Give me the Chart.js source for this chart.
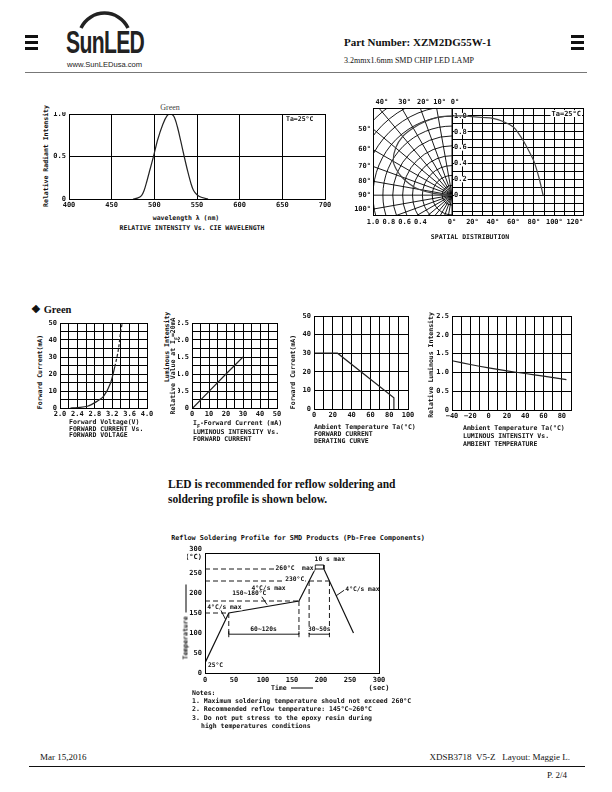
<!DOCTYPE html>
<html>
<head>
<meta charset="utf-8">
<title>XZM2DG55W-1</title>
<script src="https://cdn.jsdelivr.net/npm/chart.js@4.4.1/dist/chart.umd.min.js"></script>
<style>
  body { margin: 0; width: 612px; height: 792px; position: relative; overflow: hidden; background: #fff; color: #111; }
  canvas { position: absolute; }
  .a { position: absolute; white-space: nowrap; }
  .m { font-family: 'DejaVu Sans Mono', monospace; font-weight: bold; font-size: 6.5px; line-height: 7px; }
  .s { font-family: 'Liberation Serif', serif; }
  .bar { position: absolute; background: #111; height: 3px; width: 13px; }
</style>
</head>
<body>
<!-- header -->
<div class="bar" style="left:25px;top:35px"></div>
<div class="bar" style="left:25px;top:41px"></div>
<div class="bar" style="left:25px;top:47px"></div>
<div class="bar" style="left:571px;top:35px"></div>
<div class="bar" style="left:571px;top:41px"></div>
<div class="bar" style="left:571px;top:47px"></div>
<svg style="position:absolute;left:0;top:0" width="200" height="40">
  <path d="M 81 28 A 26 26 0 0 1 128 28" stroke="#222" stroke-width="3.5" fill="none"/>
</svg>
<div class="a" style="left:66px;top:24px;font:bold 32px 'Liberation Sans',sans-serif;color:#222;letter-spacing:-1px;transform:scaleX(0.66);transform-origin:left top">SunLED</div>
<div style="position:absolute;left:25px;top:72px;width:562px;height:1px;background:#777"></div>

<script>
// ---------------- data ----------------
var specWave = [475, 480, 485, 488, 491, 495, 499, 504, 510, 515, 519, 523, 527, 531, 535, 539, 543, 546, 550, 555, 563];
var specRel  = [0, 0.01, 0.04, 0.1, 0.2, 0.35, 0.5, 0.7, 0.88, 0.98, 1.0, 0.97, 0.85, 0.68, 0.5, 0.33, 0.18, 0.1, 0.05, 0.02, 0];
var specXLabels = [400, 450, 500, 550, 600, 650, 700];
var specYLabels = [0, 0.5, 1.0];

var spatAngle = [0, 10, 20, 30, 40, 50, 60, 65, 70, 75, 80, 85, 89];
var spatRel   = [1.0, 1.0, 0.99, 0.98, 0.97, 0.93, 0.86, 0.78, 0.68, 0.56, 0.43, 0.22, 0];
var spatDegLabels = [0, 20, 40, 60, 80, 100, 120];
var spatRadLabels = [1.0, 0.8, 0.6, 0.4];
var spatRelLabels = [1.0, 0.8, 0.6, 0.4, 0.2, 0];
var spatTopAngles = [40, 30, 20, 10, 0];
var spatSideAngles = [50, 60, 70, 80, 90, 100];

var vfVolt = [2.24, 2.4, 2.63, 2.85, 3.0, 3.16, 3.26, 3.34, 3.39, 3.43];
var vfCurr = [0, 0.3, 1, 3.9, 6.8, 14.6, 24.3, 34, 44, 50];
var vfXLabels = [2.0, 2.4, 2.8, 3.2, 3.6, 4.0];
var vfYLabels = [0, 10, 20, 30, 40, 50];

var ivCurr = [0.5, 10, 20, 30];
var ivRel  = [0, 0.49, 1.0, 1.5];
var ivXLabels = [0, 10, 20, 30, 40, 50];
var ivYLabels = [0, 0.5, 1.0, 1.5, 2.0, 2.5];

var derTemp = [0, 25, 85, 85];
var derCurr = [30, 30, 6, 0];
var derXLabels = [0, 20, 40, 60, 80, 100];
var derYLabels = [0, 10, 20, 30, 40, 50];

var taTemp = [-40, -20, 0, 20, 40, 60, 85];
var taRel  = [1.31, 1.21, 1.12, 1.04, 0.97, 0.9, 0.81];
var taXLabels = [-40, -20, 0, 20, 40, 60, 80];
var taYLabels = [0, 0.5, 1.0, 1.5, 2.0, 2.5];

var reflowTime = [0, 41, 162, 190, 205, 256];
var reflowTemp = [25, 150, 180, 260, 260, 100];
var reflowXLabels = [0, 50, 100, 150, 200, 250, 300];
var reflowYLabels = [0, 50, 100, 150, 200, 250, 300];
var zoneFloor = 97;
var reflowNotes = [
  ['10 s max', 189, 284, 'left'],
  ['260\u00b0C  max', 187, 262, 'right'],
  ['230\u00b0C', 171, 233, 'right'],
  ['4\u00b0C/s max', 139, 211, 'right'],
  ['150~180\u00b0C', 47, 198, 'left'],
  ['4\u00b0C/s max', 4, 164, 'left'],
  ['4\u00b0C/s max', 242, 209, 'left'],
  ['25\u00b0C', 5, 20, 'left'],
  ['60~120s', 101, 108, 'center'],
  ['30~50s', 197, 108, 'center']
];
var reflowLeaders = [
  [[96, 195], [107, 171]],
  [[27, 158], [35.5, 134]],
  [[240, 207], [226, 193]]
];

// ---------------- helpers ----------------
var tickFont = { family: 'DejaVu Sans Mono', size: 7, weight: 'bold' };
var ink = '#111';

function put(text, x, y, cls, mode, extra) {
  var d = document.createElement('div');
  d.className = 'a ' + cls;
  d.innerHTML = text;
  d.style.left = x + 'px';
  d.style.top = y + 'px';
  if (extra) d.style.cssText += extra;
  if (mode === 'c') d.style.transform = 'translate(-50%,-50%)';
  else if (mode === 'v') d.style.transform = 'translate(-50%,-50%) rotate(-90deg)';
  else if (mode === 'r') d.style.transform = 'translate(-100%,-50%)';
  else d.style.transform = 'translateY(-50%)';
  document.body.appendChild(d);
}

function steps(min, max, step) {
  var out = [min];
  for (var k = Math.ceil(min / step - 1e-6); k * step < max - 1e-6; k++) {
    var v = Math.round(k * step * 1e6) / 1e6;
    if (Math.abs(v - min) > 1e-6) out.push(v);
  }
  out.push(max);
  return out;
}

function labeler(list, fmt) {
  return function (v) {
    for (var i = 0; i < list.length; i++) {
      if (Math.abs(list[i] - v) < 1e-6) return fmt ? fmt(list[i]) : String(list[i]);
    }
    return '';
  };
}

function axis(min, max, step, list, fmt, pad, grid) {
  return {
    type: 'linear', min: min, max: max,
    afterBuildTicks: function (s) { s.ticks = steps(min, max, step).map(function (v) { return { value: v }; }); },
    ticks: { autoSkip: false, maxRotation: 0, minRotation: 0, padding: pad, color: ink, font: tickFont, callback: labeler(list, fmt) },
    grid: { display: grid !== false, color: '#000', lineWidth: 1, drawTicks: false },
    border: { display: true, color: '#000', width: 1 }
  };
}

function pts(xs, ys) {
  return xs.map(function (x, i) { return { x: x, y: ys[i] }; });
}

function line(data, extra) {
  var ds = { data: data, showLine: true, pointRadius: 0, borderColor: '#222', borderWidth: 1.2, tension: 0 };
  for (var k in extra) ds[k] = extra[k];
  return ds;
}

function fixed1(v) { return v.toFixed(1); }
function frac(v) { return v === 0 ? '0' : v.toFixed(1); }
function minus(v) { return v < 0 ? '\u2212' + (-v) : String(v); }

var boxFrame = {
  id: 'boxFrame',
  afterDraw: function (chart) {
    var c = chart.ctx, a = chart.chartArea;
    c.save();
    c.strokeStyle = '#000';
    c.lineWidth = 1;
    c.strokeRect(a.left + 0.5, a.top + 0.5, a.right - a.left, a.bottom - a.top);
    c.restore();
  }
};

function zero(s) { s.paddingLeft = 0; s.paddingRight = 0; s.paddingTop = 0; s.paddingBottom = 0; }

function frame(x, y, w, h, pl, pt, pr, pb, cfg) {
  var cv = document.createElement('canvas');
  cv.width = w + pl + pr;
  cv.height = h + pt + pb;
  cv.style.left = (x - pl) + 'px';
  cv.style.top = (y - pt) + 'px';
  document.body.appendChild(cv);
  var o = cfg.options;
  o.responsive = false;
  o.animation = false;
  o.devicePixelRatio = 1;
  o.events = [];
  o.layout = { padding: { left: 0, top: pt, right: pr, bottom: 0 }, autoPadding: false };
  o.plugins = { legend: { display: false }, tooltip: { enabled: false } };
  o.scales.x.afterFit = function (s) { s.height = pb; zero(s); };
  o.scales.y.afterFit = function (s) { s.width = pl; zero(s); };
  cfg.plugins = (cfg.plugins || []).concat([boxFrame]);
  return new Chart(cv, cfg);
}

// ---------------- header text ----------------
put('www.SunLEDusa.com', 67, 64, '', 'l', "font:7.6px 'Liberation Sans',sans-serif;color:#222");
put('Part Number: XZM2DG55W-1', 344, 42, 's', 'l', 'font-weight:bold;font-size:11px');
put('3.2mmx1.6mm SMD CHIP LED LAMP', 344, 60, 's', 'l', 'font-size:8px');

// ---------------- spectrum ----------------
frame(69, 114, 256, 85, 16, 2, 8, 12, {
  type: 'scatter',
  data: { datasets: [line(pts(specWave, specRel), { tension: 0.3 })] },
  options: {
    scales: {
      x: axis(400, 700, 50, specXLabels, null, 2),
      y: axis(0, 1, 0.5, specYLabels, frac, 3)
    }
  }
});
put('Green', 170, 107, 's', 'c', 'font-size:8px;color:#444');
put('Ta=25\u00b0C', 286, 119, 'm', 'l');
put('Relative Radiant Intensity', 46, 156, 'm', 'v');
put('wavelength \u03bb (nm)', 186, 218, 'm', 'c');
put('RELATIVE INTENSITY Vs. CIE WAVELENGTH', 192, 228, 'm', 'c');

// ---------------- spatial distribution ----------------
var polarGrid = {
  id: 'polarGrid',
  beforeDatasetsDraw: function (chart) {
    var c = chart.ctx, a = chart.chartArea, xs = chart.scales.x, ys = chart.scales.y;
    var cx = xs.getPixelForValue(0), cy = ys.getPixelForValue(0), u = cx - xs.getPixelForValue(-1);
    c.save();
    c.beginPath();
    c.rect(a.left, a.top, a.right - a.left + 1, a.bottom - a.top + 1);
    c.clip();
    c.strokeStyle = '#000';
    c.lineWidth = 0.9;
    for (var k = 1; k <= 14; k++) {
      c.beginPath();
      c.arc(cx, cy, k * 0.125 * u, Math.PI / 2, Math.PI * 1.5);
      c.stroke();
    }
    for (var d = 0; d <= 180; d += 10) {
      var t = d * Math.PI / 180;
      c.beginPath();
      c.moveTo(cx, cy);
      c.lineTo(cx - 300 * Math.sin(t), cy - 300 * Math.cos(t));
      c.stroke();
    }
    c.restore();
  },
  afterDraw: function (chart) {
    var c = chart.ctx, a = chart.chartArea, xs = chart.scales.x, ys = chart.scales.y;
    var cx = xs.getPixelForValue(0), cy = ys.getPixelForValue(0);
    c.save();
    c.fillStyle = ink;
    c.font = 'bold 7px "DejaVu Sans Mono"';
    c.textBaseline = 'middle';
    c.textAlign = 'center';
    spatTopAngles.forEach(function (d) {
      var t = d * Math.PI / 180;
      c.fillText(d + '\u00b0', cx - (cy - a.top) * Math.tan(t) + 3, a.top - 6);
    });
    c.textAlign = 'right';
    spatSideAngles.forEach(function (d) {
      var t = d * Math.PI / 180;
      c.fillText(d + '\u00b0', a.left - 2, cy - (cx - a.left) * Math.cos(t) / Math.sin(t));
    });
    c.restore();
  }
};

var relLabels = {
  id: 'relLabels',
  beforeDatasetsDraw: function (chart) {
    var c = chart.ctx, a = chart.chartArea, xs = chart.scales.x, ys = chart.scales.y;
    var x0 = xs.getPixelForValue(0) + 2;
    c.save();
    c.font = 'bold 7px "DejaVu Sans Mono"';
    c.textBaseline = 'middle';
    spatRelLabels.forEach(function (v) {
      var y = ys.getPixelForValue(v);
      var s = frac(v);
      c.fillStyle = '#fff';
      c.fillRect(x0, y - 3, c.measureText(s).width + 1, 6);
      c.fillStyle = ink;
      c.fillText(s, x0, y);
    });
    var tag = 'Ta=25\u00b0C';
    var tw = c.measureText(tag).width;
    c.fillStyle = '#fff';
    c.fillRect(a.right - tw - 3, a.top + 2, tw + 2, 7);
    c.fillStyle = ink;
    c.fillText(tag, a.right - tw - 2, a.top + 6);
    c.restore();
  }
};

var polarData = spatAngle.map(function (d, i) {
  var t = d * Math.PI / 180;
  return { x: -spatRel[i] * Math.sin(t), y: spatRel[i] * Math.cos(t) };
});

frame(373, 108, 79, 107, 22, 12, 10, 14, {
  type: 'scatter',
  data: { datasets: [line(polarData, { tension: 0.3, borderColor: '#444' })] },
  options: {
    scales: {
      x: {
        type: 'linear', min: -1.0, max: 0,
        afterBuildTicks: function (s) { s.ticks = spatRadLabels.map(function (v) { return { value: -v }; }); },
        ticks: { autoSkip: false, maxRotation: 0, padding: 3, color: ink, font: tickFont, callback: function (v) { return Math.abs(v).toFixed(1); } },
        grid: { display: false, drawTicks: false },
        border: { display: false }
      },
      y: { type: 'linear', min: -0.25, max: 1.1, ticks: { display: false }, grid: { display: false, drawTicks: false }, border: { display: false } }
    }
  },
  plugins: [polarGrid]
});

frame(452, 108, 131, 107, 6, 2, 10, 14, {
  type: 'scatter',
  data: { datasets: [line(pts(spatAngle, spatRel), { tension: 0.3, borderColor: '#444' })] },
  options: {
    scales: {
      x: axis(0, 128, 10, spatDegLabels, function (v) { return v + '\u00b0'; }, 3),
      y: {
        type: 'linear', min: -0.25, max: 1.1,
        afterBuildTicks: function (s) { s.ticks = steps(-0.25, 1.1, 0.1).map(function (v) { return { value: v }; }); },
        ticks: { display: false },
        grid: { color: '#000', lineWidth: 1, drawTicks: false },
        border: { display: false }
      }
    }
  },
  plugins: [relLabels]
});
put('SPATIAL DISTRIBUTION', 470, 237, 'm', 'c');

// ---------------- small characteristic charts ----------------
put('\u2756 Green', 31, 309, 's', 'l', 'font-weight:bold;font-size:10.5px');

frame(60, 323, 87, 85, 14, 3, 6, 11, {
  type: 'scatter',
  data: { datasets: [line(pts(vfVolt, vfCurr), {
    tension: 0.3,
    segment: { borderDash: function (ctx) { return ctx.p0.parsed.y >= 24 ? [3, 2] : undefined; } }
  })] },
  options: {
    scales: {
      x: axis(2.0, 4.0, 0.2, vfXLabels, fixed1, 2),
      y: axis(0, 50, 5, vfYLabels, null, 3)
    }
  }
});
put('Forward Current(mA)', 40, 372, 'm', 'v');
put('Forward Voltage(V)', 69, 422, 'm', 'l');
put('FORWARD CURRENT Vs.', 69, 429, 'm', 'l');
put('FORWARD VOLTAGE', 69, 435, 'm', 'l');

frame(192, 323, 85, 85, 14, 3, 6, 11, {
  type: 'scatter',
  data: { datasets: [line(pts(ivCurr, ivRel))] },
  options: {
    scales: {
      x: axis(0, 50, 5, ivXLabels, null, 2),
      y: axis(0, 2.5, 0.25, ivYLabels, frac, 3)
    }
  }
});
put('Luminous Intensity', 167, 347, 'm', 'v');
put('Relative Value at I<sub style="font-size:5px">F</sub>=20mA', 175, 366, 'm', 'v');
put('I<sub style="font-size:5px">F</sub>-Forward Current (mA)', 193, 425, 'm', 'l');
put('LUMINOUS INTENSITY Vs.', 193, 432, 'm', 'l');
put('FORWARD CURRENT', 193, 439, 'm', 'l');

frame(314, 316, 94, 93, 14, 3, 8, 11, {
  type: 'scatter',
  data: { datasets: [line(pts(derTemp, derCurr))] },
  options: {
    scales: {
      x: axis(0, 100, 10, derXLabels, null, 2),
      y: axis(0, 50, 10, derYLabels, null, 3)
    }
  }
});
put('Forward Current(mA)', 293, 372, 'm', 'v');
put('Ambient Temperature Ta(\u00b0C)', 314, 427, 'm', 'l');
put('FORWARD CURRENT', 314, 434, 'm', 'l');
put('DERATING CURVE', 314, 441, 'm', 'l');

frame(452, 316, 119, 94, 16, 3, 6, 11, {
  type: 'scatter',
  data: { datasets: [line(pts(taTemp, taRel), { tension: 0.3 })] },
  options: {
    scales: {
      x: axis(-40, 90, 10, taXLabels, minus, 2),
      y: axis(0, 2.5, 0.5, taYLabels, frac, 3)
    }
  }
});
put('Relative Luminous Intensity', 431, 365, 'm', 'v');
put('Ambient Temperature Ta(\u00b0C)', 463, 428, 'm', 'l');
put('LUMINOUS INTENSITY Vs.', 463, 436, 'm', 'l');
put('AMBIENT TEMPERATURE', 463, 444, 'm', 'l');

// ---------------- reflow profile ----------------
put('LED is recommended for reflow soldering and', 168, 484, 's', 'l', 'font-weight:bold;font-size:11.5px');
put('soldering profile is shown below.', 168, 499, 's', 'l', 'font-weight:bold;font-size:11.5px');
put('Reflow Soldering Profile for SMD Products (Pb-Free Components)', 298, 538, 'm', 'c', 'font-size:6.8px');

// time at which the profile crosses a temperature, on the rising or falling side
function crossing(temp, falling) {
  for (var i = 0; i < reflowTime.length - 1; i++) {
    var a = reflowTemp[i], b = reflowTemp[i + 1];
    if (falling ? (a >= temp && b <= temp && a !== b) : (a <= temp && b >= temp && a !== b)) {
      return reflowTime[i] + (temp - a) / (b - a) * (reflowTime[i + 1] - reflowTime[i]);
    }
  }
  return null;
}

var tPre = reflowTime[1], tSoak = reflowTime[2], tPeak0 = reflowTime[3], tPeak1 = reflowTime[4];
var peak = reflowTemp[3];
var t230up = crossing(230, false), t230dn = crossing(230, true);
var dash = { borderDash: [5, 3], borderWidth: 0.9, borderColor: '#000', tension: 0 };
var solid = { borderWidth: 0.9, borderColor: '#000', tension: 0 };
var endTick = { pointStyle: 'line', rotation: 90, pointRadius: 3, pointBorderWidth: 0.9, pointBorderColor: '#000' };

var guides = [
  line([{ x: 0, y: peak }, { x: tPeak0, y: peak }], dash),
  line([{ x: 0, y: 230 }, { x: t230dn, y: 230 }], dash),
  line([{ x: 0, y: reflowTemp[2] }, { x: tSoak, y: reflowTemp[2] }], dash),
  line([{ x: 0, y: reflowTemp[1] }, { x: tPre, y: reflowTemp[1] }], dash),
  line([{ x: tPre, y: reflowTemp[1] }, { x: tPre, y: zoneFloor }], dash),
  line([{ x: tSoak, y: reflowTemp[2] }, { x: tSoak, y: zoneFloor }], dash),
  line([{ x: t230up, y: 230 }, { x: t230up, y: zoneFloor }], dash),
  line([{ x: t230dn, y: 230 }, { x: t230dn, y: zoneFloor }], dash),
  line([{ x: tPre, y: zoneFloor }, { x: tSoak, y: zoneFloor }], Object.assign({}, solid, endTick)),
  line([{ x: t230up, y: zoneFloor }, { x: t230dn, y: zoneFloor }], Object.assign({}, solid, endTick)),
  line([{ x: tPeak0, y: peak }, { x: tPeak0, y: peak + 10 }, { x: tPeak1, y: peak + 10 }, { x: tPeak1, y: peak }], solid)
];
reflowLeaders.forEach(function (p) {
  guides.push(line([{ x: p[0][0], y: p[0][1] }, { x: p[1][0], y: p[1][1] }], solid));
});

var reflowText = {
  id: 'reflowText',
  afterDatasetsDraw: function (chart) {
    var c = chart.ctx, xs = chart.scales.x, ys = chart.scales.y;
    c.save();
    c.font = 'bold 6.3px "DejaVu Sans Mono"';
    c.textBaseline = 'middle';
    reflowNotes.forEach(function (n) {
      var x = xs.getPixelForValue(n[1]), y = ys.getPixelForValue(n[2]);
      var w = c.measureText(n[0]).width;
      var left = n[3] === 'left' ? x : n[3] === 'right' ? x - w : x - w / 2;
      c.fillStyle = '#fff';
      c.fillRect(left - 1, y - 3, w + 2, 6);
      c.fillStyle = ink;
      c.textAlign = 'left';
      c.fillText(n[0], left, y);
    });
    c.restore();
  }
};

frame(205, 553, 174, 120, 18, 10, 14, 18, {
  type: 'scatter',
  data: { datasets: [line(pts(reflowTime, reflowTemp), { borderColor: '#111', borderWidth: 1.2 })].concat(guides) },
  options: {
    scales: {
      x: axis(0, 300, 50, reflowXLabels, function (v) { return v === 300 ? ['300', '(sec)'] : String(v); }, 3, false),
      y: axis(0, 300, 50, reflowYLabels, function (v) { return v === 300 ? ['300', '(\u00b0C)'] : String(v); }, 3, false)
    }
  },
  plugins: [reflowText]
});
put('Temperature <span style="display:inline-block;width:28px;border-top:1px solid #000;vertical-align:middle"></span>', 186, 622, 'm', 'v');
put('Time <span style="display:inline-block;width:22px;border-top:1px solid #000;vertical-align:middle"></span>', 271, 688, 'm', 'l');
put('Notes:', 192, 693, 'm', 'l');
put('1. Maximum soldering temperature should not exceed 260\u00b0C', 192, 701, 'm', 'l');
put('2. Recommended reflow temperature: 145\u00b0C~260\u00b0C', 192, 709, 'm', 'l');
put('3. Do not put stress to the epoxy resin during', 192, 718, 'm', 'l');
put('high temperatures conditions', 201, 726, 'm', 'l');

// ---------------- footer ----------------
put('Mar 15,2016', 40, 757, 's', 'l', 'font-size:9px');
put('XDSB3718&nbsp;&nbsp;V5-Z&nbsp;&nbsp;&nbsp;Layout: Maggie L.', 570, 757, 's', 'r', 'font-size:9px');
put('P. 2/4', 567, 775, 's', 'r', 'font-size:9px');
</script>
<div style="position:absolute;left:29px;top:766px;width:556px;height:1px;background:#111"></div>
</body>
</html>
